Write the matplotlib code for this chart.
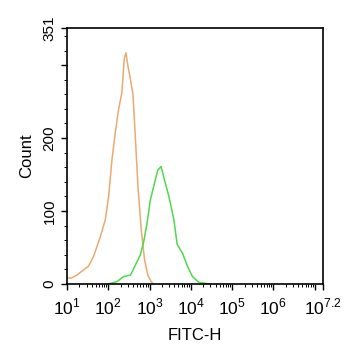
import numpy as np
import matplotlib.pyplot as plt
from matplotlib.ticker import FixedLocator

plt.rcParams['font.family'] = ['Liberation Sans', 'DejaVu Sans']
plt.rcParams['mathtext.fontset'] = 'custom'
plt.rcParams['mathtext.rm'] = 'Liberation Sans'

# histogramme controle (orange), x en log10(FITC-H)
orange_x = [1.0, 1.11, 1.24, 1.40, 1.52, 1.64, 1.80, 1.93, 2.01, 2.09, 2.17, 2.25,
            2.33, 2.39, 2.43, 2.47, 2.54, 2.60, 2.66, 2.72, 2.80, 2.88, 2.96, 3.04, 3.09]
orange_y = [8, 8, 12, 19, 24, 37, 63, 88, 120, 170, 207, 239,
            262, 310, 317, 301, 280, 259, 198, 134, 74, 33, 12, 3, 0]
# histogramme anticorps (vert)
green_x = [2.01, 2.21, 2.37, 2.54, 2.66, 2.78, 2.86, 2.94, 3.02, 3.12, 3.20, 3.28,
           3.36, 3.47, 3.59, 3.67, 3.80, 3.92, 4.04, 4.20, 4.45]
green_y = [0, 3, 10, 12, 26, 40, 58, 83, 115, 138, 156, 161,
           143, 120, 88, 54, 42, 24, 10, 2, 0]

x_ticks = [1, 2, 3, 4, 5, 6, 7.2]
x_labels = ['$10^{1}$', '$10^{2}$', '$10^{3}$', '$10^{4}$', '$10^{5}$', '$10^{6}$', '$10^{7.2}$']
y_ticks = [0, 100, 200, 300, 351]
y_labels = ['0', '100', '200', '', '351']

fig = plt.figure(figsize=(3.45, 3.5), dpi=100)
ax = fig.add_axes([0.194, 0.189, 0.742, 0.731])

ax.plot(orange_x, orange_y, color='#EAAA70', lw=1.1)
ax.plot(green_x, green_y, color='#50D850', lw=1.1)

ax.set_xlim(1, 7.2)
ax.set_ylim(0, 351)

ax.set_xticks(x_ticks + [7])
ax.set_xticklabels(x_labels + [''], fontsize=12.5)
minx = [np.log10(k) + d for d in range(1, 7) for k in range(2, 10)]
ax.xaxis.set_minor_locator(FixedLocator(minx))

ax.set_yticks(y_ticks)
ax.set_yticklabels(y_labels, fontsize=11, rotation=90, va='center')
ax.yaxis.set_minor_locator(FixedLocator(np.arange(20, 351, 20)))

ax.tick_params(which='major', length=4, width=1, direction='out')
ax.tick_params(axis='x', which='major', pad=5)
ax.tick_params(which='minor', length=2, width=0.7, direction='out')
for s in ax.spines.values():
    s.set_linewidth(1.2)

ax.set_xlabel('FITC-H', fontsize=12, labelpad=8)
ax.set_ylabel('Count', fontsize=12, labelpad=6)

fig.savefig('out.png', dpi=100)
